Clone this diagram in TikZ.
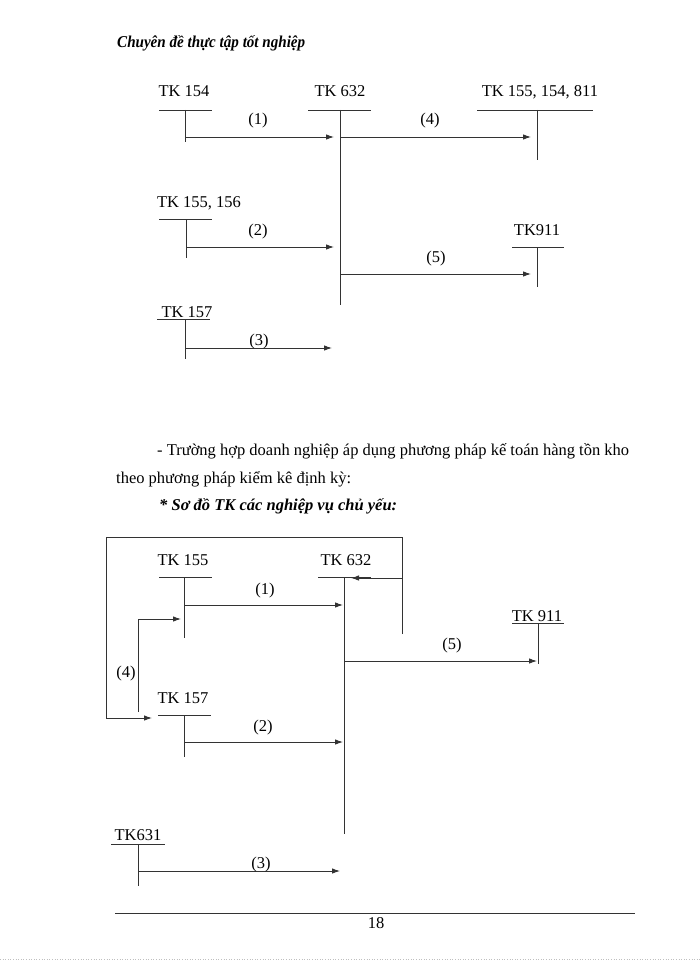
\documentclass[tikz,border=0pt]{standalone}
\usepackage{fontspec}
\setmainfont{Liberation Serif}
\usetikzlibrary{arrows.meta}
\tikzset{
  ln/.style={draw=black!80, line width=0.9pt},
  arr/.style={ln, -{Latex[length=8pt,width=5.5pt]}},
  lbl/.style={anchor=base, inner sep=0pt, font=\fontsize{16.5}{20}\selectfont},
  txt/.style={anchor=base west, inner sep=0pt, font=\fontsize{16.5}{20}\selectfont},
}
\begin{document}
\begin{tikzpicture}[x=1pt,y=-1pt]
\useasboundingbox (0,0) rectangle (700,960);
% header
\node[anchor=base west, inner sep=0pt] (hdr) at (117,48) {\resizebox{188pt}{12pt}{\bfseries\itshape Chuyên đề thực tập tốt nghiệp}};

% ===== top diagram =====
\node[lbl] (t154) at (184,97) {TK 154};
\coordinate (t154l) at (159,110); \coordinate (t154r) at (212,110);
\coordinate (t154t) at (185,110); \coordinate (t154b) at (185,142);
\node[lbl] (t632) at (340,97) {TK 632};
\coordinate (t632l) at (308,110); \coordinate (t632r) at (371,110);
\coordinate (t632t) at (340,110); \coordinate (t632b) at (340,305);
\node[lbl] (t811) at (540,97) {TK 155, 154, 811};
\coordinate (t811l) at (477,110); \coordinate (t811r) at (593,110);
\coordinate (t811t) at (537,110); \coordinate (t811b) at (537,160);
\node[lbl] (t156) at (199,207) {TK 155, 156};
\coordinate (t156l) at (159,219); \coordinate (t156r) at (212,219);
\coordinate (t156t) at (186,219); \coordinate (t156b) at (186,258);
\node[lbl] (t911) at (537,235) {TK911};
\coordinate (t911l) at (512,247); \coordinate (t911r) at (564,247);
\coordinate (t911t) at (537,247); \coordinate (t911b) at (537,287);
\node[lbl] (t157) at (187,317) {TK 157};
\coordinate (t157l) at (157,319); \coordinate (t157r) at (210,319);
\coordinate (t157t) at (185,319); \coordinate (t157b) at (185,359);
\foreach \n in {t154,t632,t811,t156,t911,t157}{
  \draw[ln] (\n l) -- (\n r);
  \draw[ln] (\n t) -- (\n b);
}
\coordinate (a1s) at (185,137); \coordinate (a1e) at (334,137);
\coordinate (a4s) at (340,137); \coordinate (a4e) at (531,137);
\coordinate (a2s) at (186,247); \coordinate (a2e) at (334,247);
\coordinate (a5s) at (340,274); \coordinate (a5e) at (531,274);
\coordinate (a3s) at (185,348); \coordinate (a3e) at (332,348);
\draw[arr] (a1s) -- (a1e);
\draw[arr] (a4s) -- (a4e);
\draw[arr] (a2s) -- (a2e);
\draw[arr] (a5s) -- (a5e);
\draw[arr] (a3s) -- (a3e);
\node[lbl] (l1) at (258,125) {(1)};
\node[lbl] (l4) at (430,125) {(4)};
\node[lbl] (l2) at (258,235) {(2)};
\node[lbl] (l5) at (436,262) {(5)};
\node[lbl] (l3) at (259,345) {(3)};

% ===== text =====
\node[txt] (p1) at (157,455) {- Trường hợp doanh nghiệp áp dụng phương pháp kế toán hàng tồn kho};
\node[txt] (p2) at (116,483) {theo phương pháp kiểm kê định kỳ:};
\node[txt, font=\fontsize{16.5}{20}\selectfont\bfseries\itshape] (p3) at (159,510) {* Sơ đồ TK các nghiệp vụ chủ yếu:};

% ===== bottom diagram =====
\node[lbl] (b155) at (183,565) {TK 155};
\coordinate (b155l) at (159,577); \coordinate (b155r) at (212,577);
\coordinate (b155t) at (184,577); \coordinate (b155b) at (184,638);
\node[lbl] (b632) at (346,565) {TK 632};
\coordinate (b632l) at (318,577); \coordinate (b632r) at (371,577);
\coordinate (b632t) at (344,577); \coordinate (b632b) at (344,834);
\node[lbl] (b911) at (537,621) {TK 911};
\coordinate (b911l) at (512,623); \coordinate (b911r) at (564,623);
\coordinate (b911t) at (538,623); \coordinate (b911b) at (538,664);
\node[lbl] (b157) at (183,703) {TK 157};
\coordinate (b157l) at (158,715); \coordinate (b157r) at (211,715);
\coordinate (b157t) at (184,715); \coordinate (b157b) at (184,757);
\node[lbl] (b631) at (138,840) {TK631};
\coordinate (b631l) at (111,844); \coordinate (b631r) at (165,844);
\coordinate (b631t) at (138,844); \coordinate (b631b) at (138,886);
\foreach \n in {b155,b632,b911,b157,b631}{
  \draw[ln] (\n l) -- (\n r);
  \draw[ln] (\n t) -- (\n b);
}
% outer loop
\coordinate (o1) at (402,634); \coordinate (o2) at (402,537);
\coordinate (o3) at (106,537); \coordinate (o4) at (106,718);
\coordinate (o5) at (152,718);
\draw[arr] (o1) -- (o2) -- (o3) -- (o4) -- (o5);
\coordinate (r1) at (402,578); \coordinate (r2) at (351,578);
\draw[arr] (r1) -- (r2);
% inner (4)
\coordinate (i1) at (138,712); \coordinate (i2) at (138,619); \coordinate (i3) at (181,619);
\draw[arr] (i1) -- (i2) -- (i3);
\node[lbl] (m4) at (126,677) {(4)};
% arrows
\coordinate (c1s) at (184,605); \coordinate (c1e) at (343,605);
\coordinate (c5s) at (345,661); \coordinate (c5e) at (537,661);
\coordinate (c2s) at (184,742); \coordinate (c2e) at (343,742);
\coordinate (c3s) at (138,871); \coordinate (c3e) at (340,871);
\draw[arr] (c1s) -- (c1e);
\draw[arr] (c5s) -- (c5e);
\draw[arr] (c2s) -- (c2e);
\draw[arr] (c3s) -- (c3e);
\node[lbl] (m1) at (265,594) {(1)};
\node[lbl] (m5) at (452,649) {(5)};
\node[lbl] (m2) at (263,731) {(2)};
\node[lbl] (m3) at (261,868) {(3)};

% footer
\coordinate (f1) at (115,913); \coordinate (f2) at (635,913);
\draw[ln] (f1) -- (f2);
\node[lbl] (pg) at (376,928) {18};
\coordinate (d1) at (0,959); \coordinate (d2) at (700,959);
\draw[black!25, line width=0.6pt, dotted] (d1) -- (d2);
\end{tikzpicture}
\end{document}
